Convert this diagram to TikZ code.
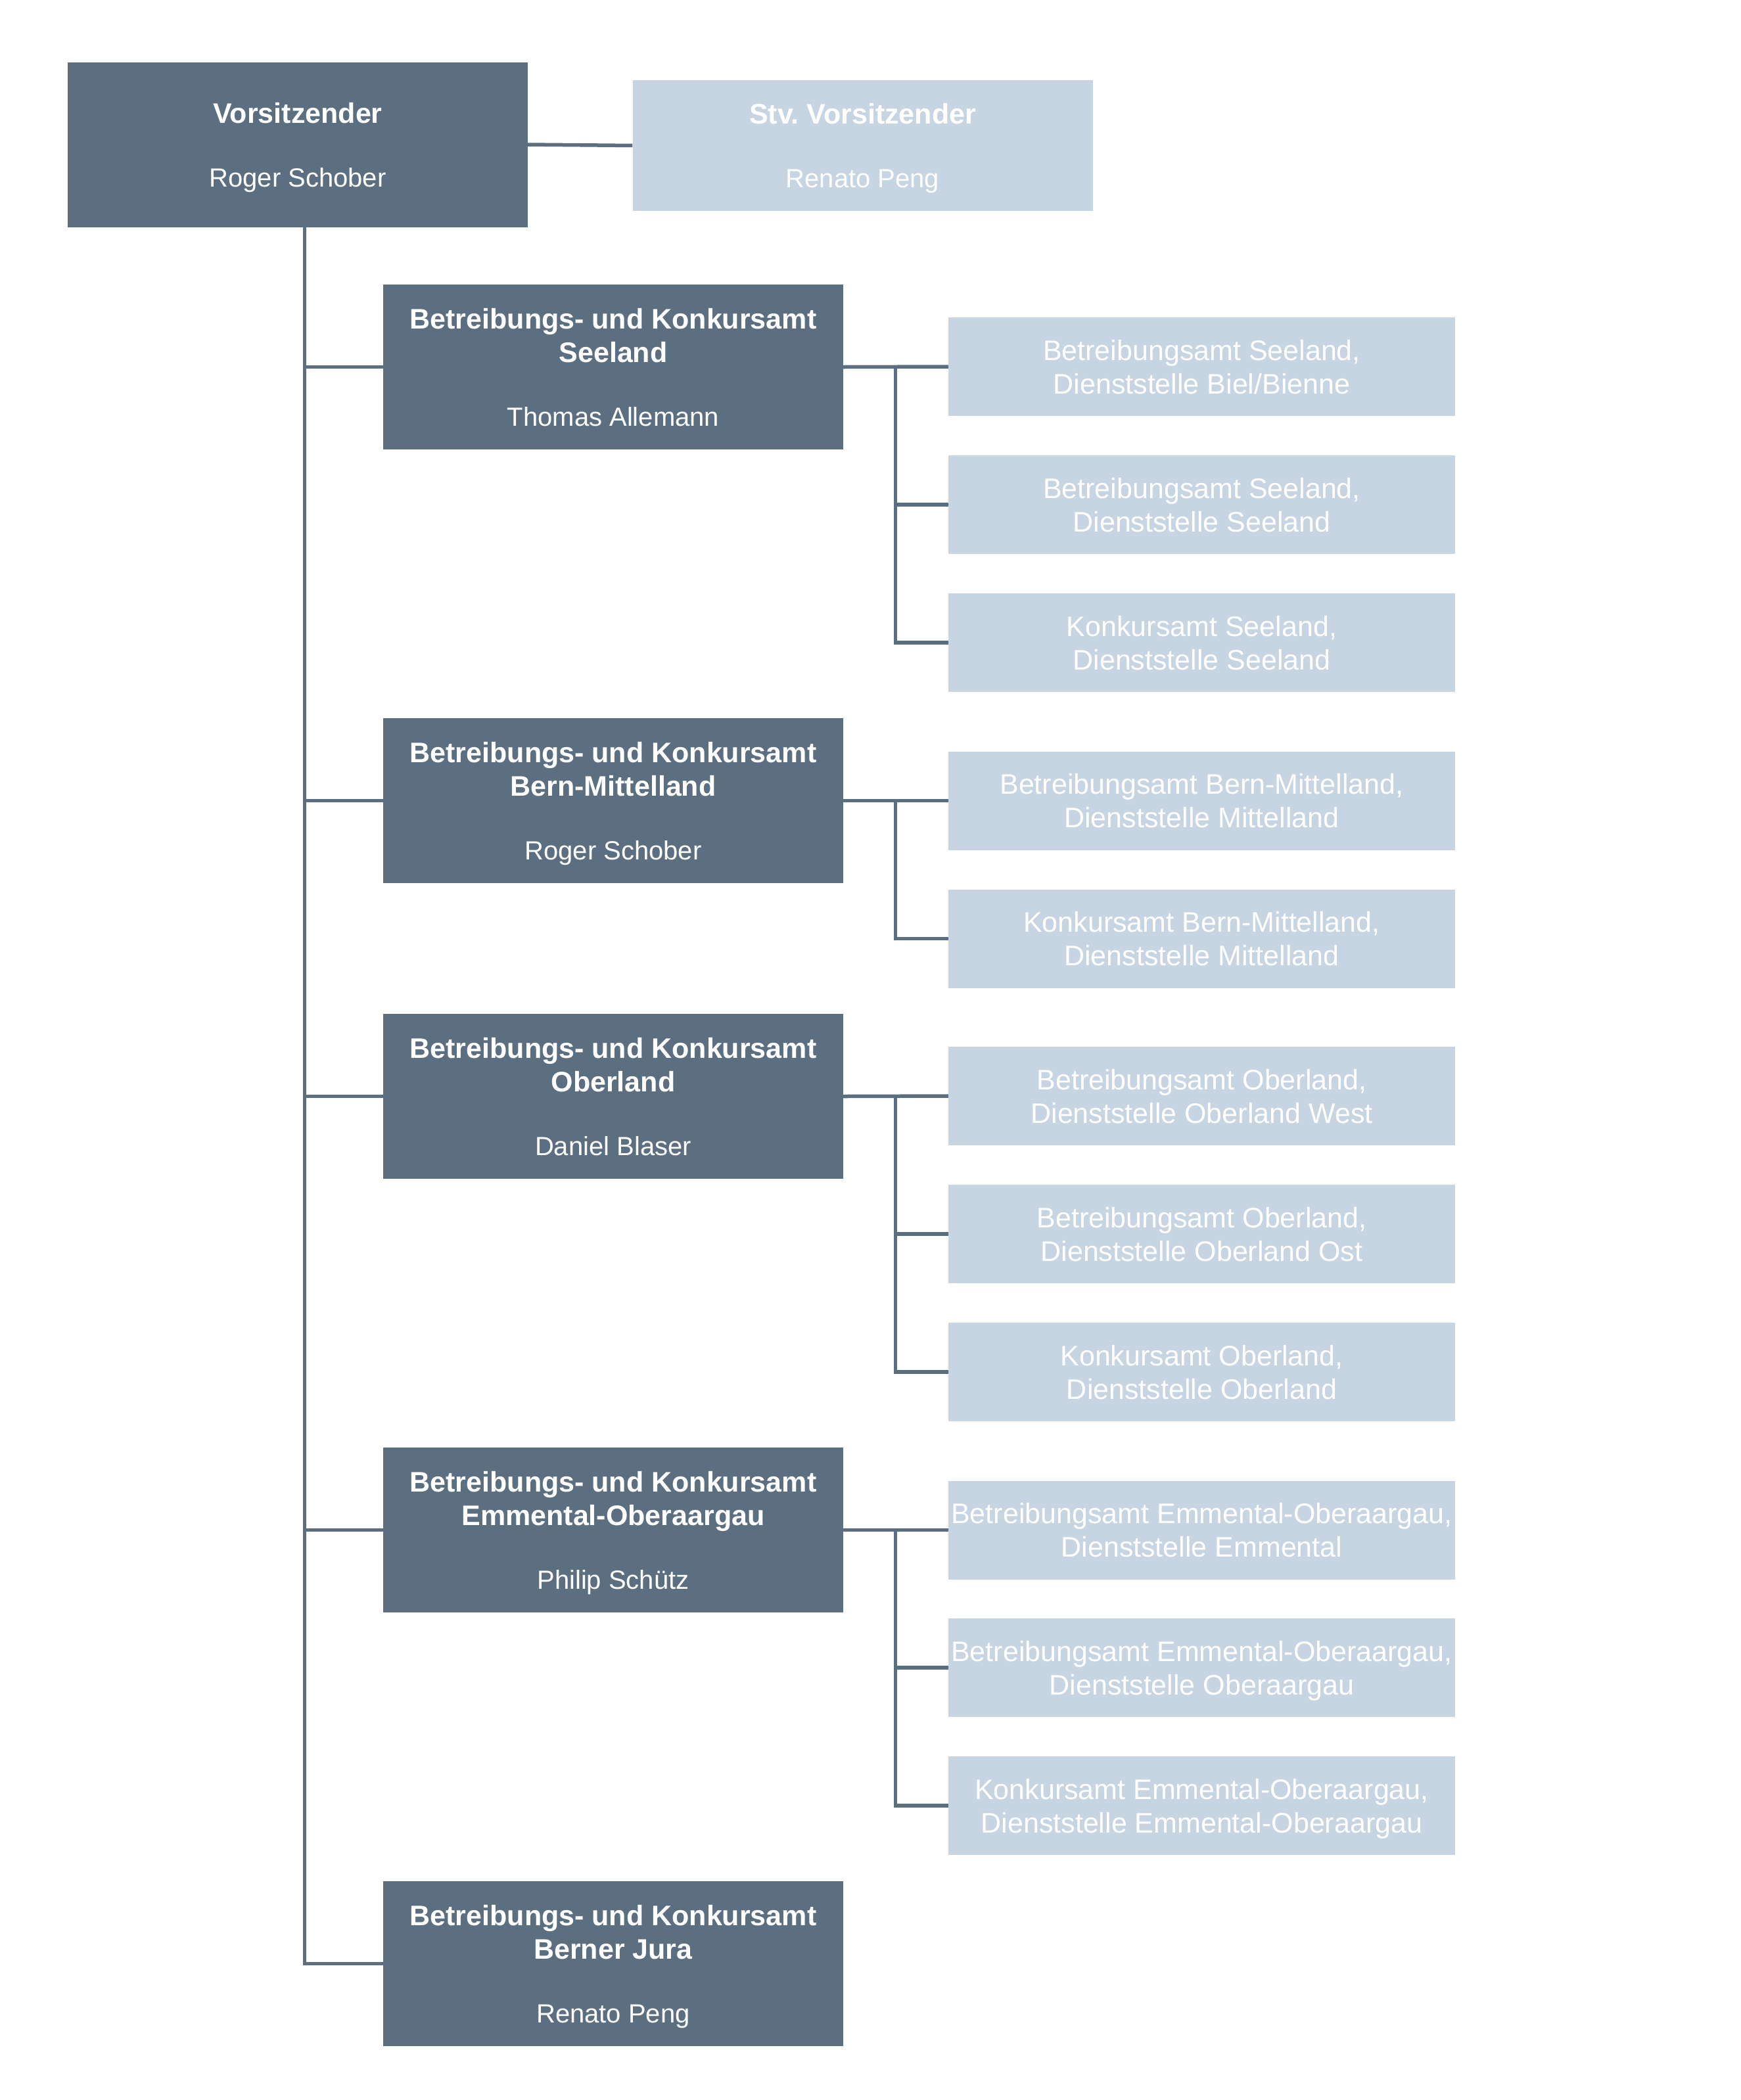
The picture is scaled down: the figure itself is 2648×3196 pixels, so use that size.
\documentclass[tikz,border=0pt]{standalone}
\usepackage{fontspec}
\setmainfont{Liberation Sans}
\frenchspacing
\definecolor{amtdark}{HTML}{5C6F81}
\definecolor{amtlight}{HTML}{C7D4E1}
\newcommand{\who}[1]{{\fontsize{40}{51}\selectfont #1}}
\tikzset{
    head/.style={fill=amtdark, text=white, minimum width=700pt, minimum height=251pt,
        inner sep=0pt, align=center, text depth=0pt, font=\fontsize{43}{51}\selectfont},
    deputy/.style={head, fill=amtlight, minimum height=199pt},
    office/.style={head, fill=amtlight, minimum width=771pt, minimum height=150pt},
    link/.style={draw=amtdark, line width=5.5pt}
}
\begin{document}
\begin{tikzpicture}[x=1pt, y=-1pt]
    \useasboundingbox (0,0) rectangle (2648,3196);
    %nodes
    \node[head] at (453,220) (vors) {\textbf{Vorsitzender}\\[46pt]\who{Roger Schober}};
    \node[deputy] at (1312.5,221.5) (stv) {\textbf{Stv. Vorsitzender}\\[46pt]\who{Renato Peng}};

    \node[head] at (933,558.5) (seeland) {\textbf{Betreibungs- und Konkursamt}\\\textbf{Seeland}\\[46pt]\who{Thomas Allemann}};
    \node[head] at (933,1218.5) (bern) {\textbf{Betreibungs- und Konkursamt}\\\textbf{Bern-Mittelland}\\[46pt]\who{Roger Schober}};
    \node[head] at (933,1668.5) (oberland) {\textbf{Betreibungs- und Konkursamt}\\\textbf{Oberland}\\[46pt]\who{Daniel Blaser}};
    \node[head] at (933,2328.5) (emmental) {\textbf{Betreibungs- und Konkursamt}\\\textbf{Emmental-Oberaargau}\\[46pt]\who{Philip Schütz}};
    \node[head] at (933,2988.5) (jura) {\textbf{Betreibungs- und Konkursamt}\\\textbf{Berner Jura}\\[46pt]\who{Renato Peng}};

    \node[office] at (1828.5,558) (seeA) {Betreibungsamt Seeland,\\Dienststelle Biel/Bienne};
    \node[office] at (1828.5,768) (seeB) {Betreibungsamt Seeland,\\Dienststelle Seeland};
    \node[office] at (1828.5,978) (seeC) {Konkursamt Seeland,\\Dienststelle Seeland};
    \node[office] at (1828.5,1218.5) (bernA) {Betreibungsamt Bern-Mittelland,\\Dienststelle Mittelland};
    \node[office] at (1828.5,1428.5) (bernB) {Konkursamt Bern-Mittelland,\\Dienststelle Mittelland};
    \node[office] at (1828.5,1668) (oberA) {Betreibungsamt Oberland,\\Dienststelle Oberland West};
    \node[office] at (1828.5,1878) (oberB) {Betreibungsamt Oberland,\\Dienststelle Oberland Ost};
    \node[office] at (1828.5,2088) (oberC) {Konkursamt Oberland,\\Dienststelle Oberland};
    \node[office] at (1828.5,2328.5) (emmA) {Betreibungsamt Emmental-Oberaargau,\\Dienststelle Emmental};
    \node[office] at (1828.5,2538) (emmB) {Betreibungsamt Emmental-Oberaargau,\\Dienststelle Oberaargau};
    \node[office] at (1828.5,2748) (emmC) {Konkursamt Emmental-Oberaargau,\\Dienststelle Emmental-Oberaargau};

    %links
    \draw[link] (vors.east) -- (stv.west);
    \coordinate (spine) at ([xshift=10.5pt]vors.south);
    \draw[link] (spine) |- (jura.west);
    \draw[link] (spine |- seeland.west) -- (seeland.west);
    \draw[link] (spine |- bern.west) -- (bern.west);
    \draw[link] (spine |- oberland.west) -- (oberland.west);
    \draw[link] (spine |- emmental.west) -- (emmental.west);

    \coordinate (seefork) at ([xshift=79.5pt]seeland.east);
    \draw[link] (seeland.east) -- (seeA.west);
    \draw[link] (seefork) |- (seeB.west);
    \draw[link] (seefork) |- (seeC.west);

    \coordinate (bernfork) at ([xshift=79.5pt]bern.east);
    \draw[link] (bern.east) -- (bernA.west);
    \draw[link] (bernfork) |- (bernB.west);

    \coordinate (oberfork) at ([xshift=79.5pt]oberland.east);
    \draw[link] (oberland.east) -- (oberA.west);
    \draw[link] (oberfork) |- (oberB.west);
    \draw[link] (oberfork) |- (oberC.west);

    \coordinate (emmfork) at ([xshift=79.5pt]emmental.east);
    \draw[link] (emmental.east) -- (emmA.west);
    \draw[link] (emmfork) |- (emmB.west);
    \draw[link] (emmfork) |- (emmC.west);
\end{tikzpicture}
\end{document}
